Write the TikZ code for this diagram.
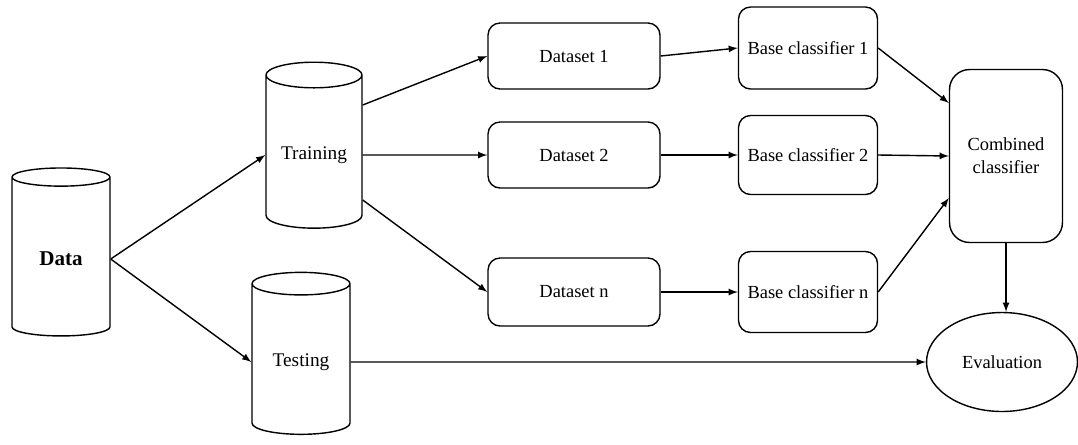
\documentclass[tikz,border=0pt]{standalone}
\usepackage{fontspec}
\setmainfont{Liberation Serif}
\usetikzlibrary{arrows,shapes.geometric}

\tikzset{
  store/.style={draw, thick, cylinder, shape border rotate=90, aspect=0.33, minimum width=1.96cm, font=\fontsize{11}{13}\selectfont},
  box/.style={draw, thick, rounded corners=0.24cm, font=\fontsize{10.5}{13}\selectfont},
}

\begin{document}
\begin{tikzpicture}[x=0.02cm, y=-0.02cm, >=latex]
  \useasboundingbox (0,0) rectangle (1078,444);
  % stores
  \node[store, minimum height=3.36cm, font=\fontsize{12}{14}\selectfont\bfseries] (data) at (61,259) {Data};
  \node[store, minimum width=1.92cm, minimum height=3.32cm] (train) at (314,155) {Training};
  \node[store, minimum height=3.24cm] (test) at (301,362) {Testing};
  % datasets and classifiers
  \node[box, minimum width=3.44cm, minimum height=1.32cm] (ds1) at (574,56) {Dataset 1};
  \node[box, minimum width=3.44cm, minimum height=1.32cm] (ds2) at (574,155) {Dataset 2};
  \node[box, minimum width=3.44cm, minimum height=1.36cm] (dsn) at (574,292) {Dataset n};
  \node[box, minimum width=2.78cm, minimum height=1.64cm] (bc1) at (808,48) {Base classifier 1};
  \node[box, minimum width=2.78cm, minimum height=1.58cm] (bc2) at (808,155) {Base classifier 2};
  \node[box, minimum width=2.78cm, minimum height=1.62cm] (bcn) at (808,292) {Base classifier n};
  \node[box, rounded corners=0.4cm, align=center, minimum width=2.26cm, minimum height=3.46cm] (comb) at (1006,156) {Combined\\classifier};
  \node[draw, thick, ellipse, minimum width=3.02cm, minimum height=1.98cm, font=\fontsize{10.5}{13}\selectfont] (eval) at (1002,362) {Evaluation};

  \path[->, thick]
  (data.east) edge (train.west)
  (data.east) edge (test.west)
  ([yshift=1cm]train.east) edge (ds1.west)
  (train.east) edge (ds2.west)
  ([yshift=-0.9cm]train.east) edge (dsn.west)
  (ds1.east) edge (bc1.west)
  (ds2.east) edge (bc2.west)
  (dsn.east) edge (bcn.west)
  (bc1.east) edge ([yshift=1.06cm]comb.west)
  (bc2.east) edge (comb.west)
  (bcn.east) edge ([yshift=-0.84cm]comb.west)
  (comb.south) edge (comb.south |- eval.north)
  (test.east) edge (eval.west)
  ;
\end{tikzpicture}
\end{document}
